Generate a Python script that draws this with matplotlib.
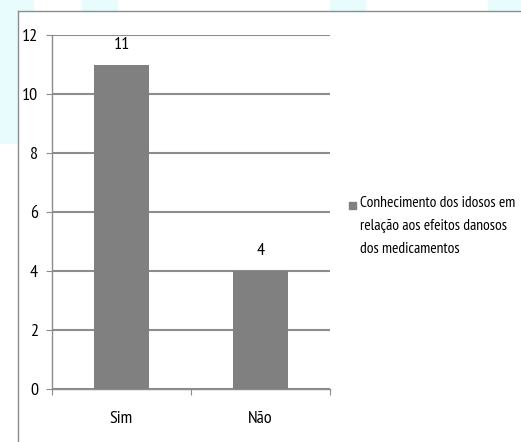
import matplotlib.pyplot as plt
from matplotlib.patches import Rectangle
from matplotlib.lines import Line2D

categories = ["Sim", "Não"]
values = [11, 4]
series_name = "Conhecimento dos idosos em\nrelação aos efeitos danosos\ndos medicamentos"
yticks = [0, 2, 4, 6, 8, 10, 12]

plt.rcParams['font.family'] = ['PT Sans Narrow', 'DejaVu Sans']

fig = plt.figure(figsize=(5.21, 4.42), dpi=100)
W, H = 521, 442
grey = "#8c8c8c"

# faint cyan background decoration
cyan = "#e9fcfd"
for x0, y0, w, h in [(0, 0, 33, 11), (82, 0, 35, 11), (330, 0, 35, 11),
                     (488, 0, 33, 11), (0, 0, 17, 143)]:
    fig.patches.append(Rectangle((x0 / W, 1 - (y0 + h) / H), w / W, h / H,
                                 transform=fig.transFigure, color=cyan, zorder=0))

# chart frame (left + top)
fig.lines.append(Line2D([18 / W, 18 / W], [0, 1 - 11 / H], transform=fig.transFigure,
                        color=grey, lw=1.0))
fig.lines.append(Line2D([18 / W, 1], [1 - 11 / H, 1 - 11 / H], transform=fig.transFigure,
                        color=grey, lw=1.0))

ax = fig.add_axes([52 / W, 1 - 389 / H, (330 - 52) / W, (389 - 35) / H])
ax.set_facecolor("none")

x = list(range(len(categories)))
bars = ax.bar(x, values, width=0.4, color="#808080", zorder=3)
for b, v in zip(bars, values):
    ax.text(b.get_x() + b.get_width() / 2, v + 0.4, str(v), ha="center", va="bottom",
            fontsize=13)

ax.set_xlim(-0.5, len(categories) - 0.5)
ax.set_ylim(0, 12)
ax.set_yticks(yticks)
ax.set_yticklabels([str(t) for t in yticks], fontsize=13)
ax.yaxis.grid(True, color=grey, lw=1.5)
ax.set_axisbelow(True)

ax.set_xticks([-0.5, 0.5, 1.5])
ax.set_xticklabels([])
ax.set_xticks(x, minor=True)
ax.set_xticklabels(categories, minor=True, fontsize=13)
ax.tick_params(axis="x", which="minor", length=0, pad=16)
ax.tick_params(axis="x", which="major", length=4, color=grey, direction="out")
ax.tick_params(axis="y", length=4, color=grey, pad=6)

for s in ["top", "right"]:
    ax.spines[s].set_visible(False)
for s in ["left", "bottom"]:
    ax.spines[s].set_color(grey)
    ax.spines[s].set_linewidth(1.0)

# legend
fig.patches.append(Rectangle((349 / W, 1 - 209 / H), 7 / W, 7 / H,
                             transform=fig.transFigure, color="#808080"))
fig.text(360 / W, 1 - 196 / H, series_name, ha="left", va="top", fontsize=11.2,
         linespacing=1.8)

fig.savefig("out.png", dpi=100)
